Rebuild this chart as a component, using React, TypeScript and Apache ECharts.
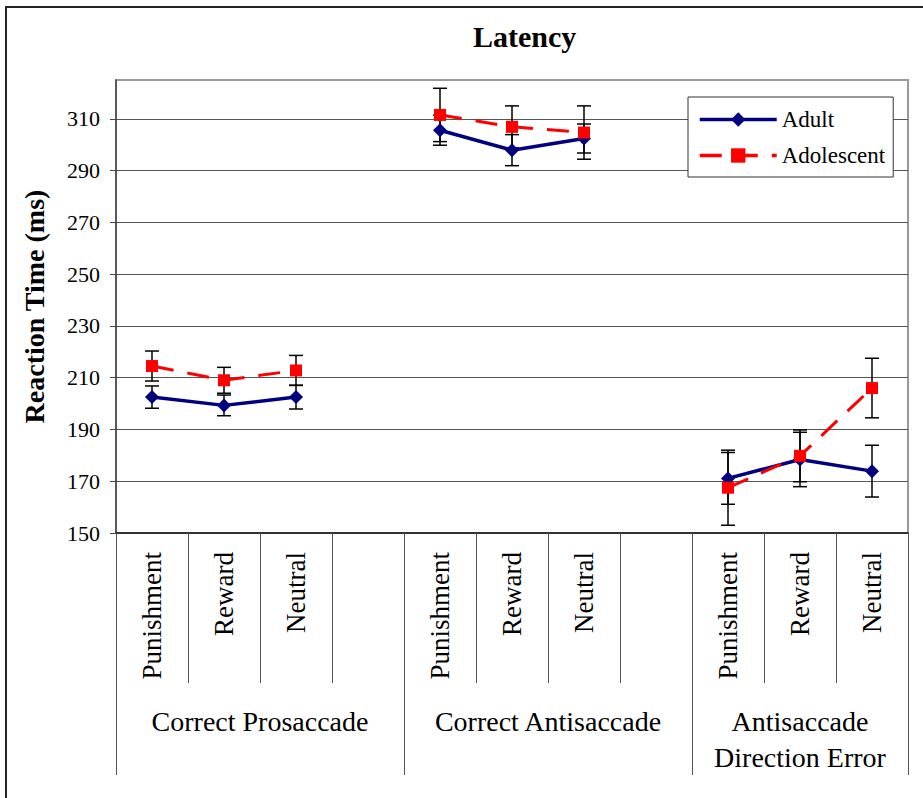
import React, { useEffect, useRef } from 'react';
import * as echarts from 'echarts';

const CONDITIONS = ['Punishment', 'Reward', 'Neutral', '', 'Punishment', 'Reward', 'Neutral', '', 'Punishment', 'Reward', 'Neutral'];
const GROUPS = ['Correct Prosaccade', 'Correct Antisaccade', 'Antisaccade\nDirection Error'];
const GROUP_SIZES = [4, 4, 3];
const ADULT = [202.5, 199.3, 202.5, null, 305.6, 297.9, 302.4, null, 171.1, 178.4, 173.9];
const ADULT_ERR = [4.3, 4, 4.6, null, 5.8, 6, 5.6, null, 10, 10.5, 10];
const ADOLESCENT = [214.5, 209, 212.8, null, 311.5, 306.9, 304.7, null, 167.5, 179.8, 206];
const ADOLESCENT_ERR = [5.8, 5, 5.8, null, 10.3, 8.1, 10.3, null, 14.5, 10, 11.5];
const Y_TICKS = [150, 170, 190, 210, 230, 250, 270, 290, 310];
const Y_MIN = 150;
const Y_MAX = 325;

const FONT = "'Liberation Serif', 'Times New Roman', serif";

function errData(vals: (number | null)[], errs: (number | null)[]) {
  const out: number[][] = [];
  vals.forEach((v, i) => {
    const e = errs[i];
    if (v != null && e != null) out.push([i, v - e, v + e]);
  });
  return out;
}

function errRender(params: any, api: any) {
  const x = api.value(0);
  const lo = api.coord([x, api.value(1)]);
  const hi = api.coord([x, api.value(2)]);
  const hw = 7;
  const st = { stroke: '#000', lineWidth: 1.5 };
  return {
    type: 'group',
    children: [
      { type: 'line', shape: { x1: lo[0], y1: lo[1], x2: hi[0], y2: hi[1] }, style: st },
      { type: 'line', shape: { x1: lo[0] - hw, y1: lo[1], x2: lo[0] + hw, y2: lo[1] }, style: st },
      { type: 'line', shape: { x1: hi[0] - hw, y1: hi[1], x2: hi[0] + hw, y2: hi[1] }, style: st },
    ],
  };
}

export default function App() {
  const ref = useRef<HTMLDivElement>(null);
  useEffect(() => {
    document.body.style.margin = '0';
    if (!ref.current) return;
    const chart = echarts.init(ref.current, null, { renderer: 'svg' });

    // half-slot categories for group labels / group boundaries
    const nHalf = CONDITIONS.length * 2 + 1;
    const halfCats: string[] = new Array(nHalf).fill('');
    const boundaryIdx: number[] = [0];
    let start = 0;
    GROUP_SIZES.forEach((s, i) => {
      halfCats[2 * start + s] = GROUPS[i];
      start += s;
      boundaryIdx.push(2 * start);
    });

    chart.setOption({
      animation: false,
      backgroundColor: '#fff',
      title: {
        text: 'Latency',
        left: 468,
        top: 16,
        textStyle: { fontFamily: FONT, fontSize: 30, fontWeight: 'bold', color: '#000' },
      },
      graphic: [
        {
          type: 'rect',
          silent: true,
          shape: { x: 6, y: 7, width: 960, height: 840 },
          style: { fill: 'none', stroke: '#222', lineWidth: 2 },
        },
      ],
      legend: {
        orient: 'vertical',
        left: 688,
        top: 97,
        itemWidth: 77,
        itemHeight: 18,
        itemGap: 13,
        padding: [11, 8, 10, 10],
        borderColor: '#333',
        borderWidth: 1,
        backgroundColor: '#fff',
        textStyle: { fontFamily: FONT, fontSize: 23, color: '#000' },
        data: [
          { name: 'Adult', lineStyle: { width: 3.5 } },
          { name: 'Adolescent', lineStyle: { width: 3.5 } },
        ],
      },
      grid: {
        left: 116,
        top: 80,
        right: 15,
        bottom: 265,
        show: true,
        borderColor: '#999',
        borderWidth: 2,
        backgroundColor: '#fff',
      },
      xAxis: [
        {
          type: 'category',
          data: CONDITIONS,
          position: 'bottom',
          boundaryGap: true,
          axisLine: { show: true, lineStyle: { color: '#333', width: 2 } },
          axisTick: { show: true, interval: 0, length: 150, lineStyle: { color: '#555', width: 1 } },
          axisLabel: {
            interval: 0,
            rotate: 90,
            margin: 19,
            fontFamily: FONT,
            fontSize: 27,
            color: '#000',
          },
          splitLine: { show: false },
        },
        {
          type: 'category',
          data: halfCats,
          position: 'bottom',
          boundaryGap: false,
          axisLine: { show: false },
          axisTick: {
            show: true,
            interval: (idx: number) => boundaryIdx.includes(idx),
            length: 242,
            lineStyle: { color: '#555', width: 1 },
          },
          axisLabel: {
            interval: (idx: number, val: string) => val !== '',
            margin: 170,
            verticalAlign: 'top',
            lineHeight: 36,
            fontFamily: FONT,
            fontSize: 28,
            color: '#000',
          },
          splitLine: { show: false },
        },
      ],
      yAxis: {
        type: 'value',
        min: Y_MIN,
        max: Y_MAX,
        name: 'Reaction Time (ms)',
        nameLocation: 'middle',
        nameGap: 68,
        nameTextStyle: { fontFamily: FONT, fontSize: 28, fontWeight: 'bold', color: '#000' },
        axisLine: { show: true, lineStyle: { color: '#444', width: 1.5 } },
        axisTick: { show: true, length: 6, customValues: Y_TICKS, lineStyle: { color: '#444' } },
        axisLabel: { customValues: Y_TICKS, margin: 16, fontFamily: FONT, fontSize: 22, color: '#000' },
        splitLine: { show: true, lineStyle: { color: '#555', width: 1 } },
      },
      series: [
        {
          name: 'Adult',
          type: 'line',
          data: ADULT,
          connectNulls: false,
          symbol: 'diamond',
          symbolSize: 14,
          itemStyle: { color: '#000080' },
          lineStyle: { color: '#000080', width: 3.5 },
          z: 3,
        },
        {
          name: 'Adolescent',
          type: 'line',
          data: ADOLESCENT,
          connectNulls: false,
          symbol: 'rect',
          symbolSize: 12,
          itemStyle: { color: '#ff0000' },
          lineStyle: { color: '#ff0000', width: 3, type: [22, 14] },
          z: 4,
        },
        {
          name: 'AdultErr',
          type: 'custom',
          renderItem: errRender,
          data: errData(ADULT, ADULT_ERR),
          z: 2,
          silent: true,
        },
        {
          name: 'AdolescentErr',
          type: 'custom',
          renderItem: errRender,
          data: errData(ADOLESCENT, ADOLESCENT_ERR),
          z: 2,
          silent: true,
        },
      ],
    });
    return () => chart.dispose();
  }, []);
  return <div ref={ref} style={{ width: 923, height: 798 }} />;
}
